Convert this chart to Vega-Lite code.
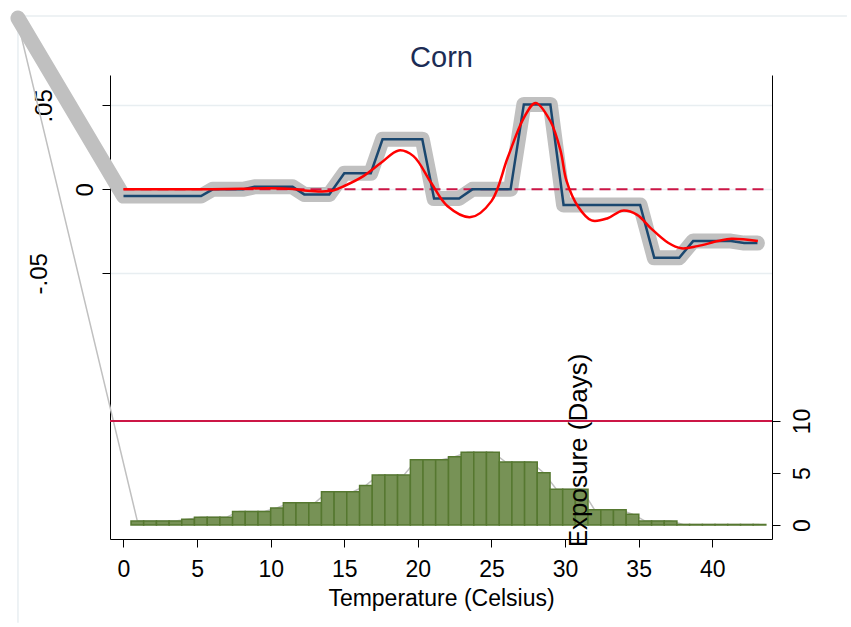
{
  "$schema": "https://vega.github.io/schema/vega-lite/v6.json",
  "width": 662,
  "height": 464,
  "padding": {"left": 10, "top": 10, "right": 5, "bottom": 5},
  "background": "white",
  "config": {
    "view": {"stroke": null},
    "font": "Liberation Sans",
    "axis": {"labelColor": "black", "titleColor": "black", "domainColor": "black", "tickColor": "black", "titleFontWeight": "normal"}
  },
  "datasets": {
    "frame": [
      {"x": -6.96, "x2": 49.15, "y": 0.1032, "y2": 0.1032},
      {"x": -7.17, "x2": -7.17, "y": 0.1032, "y2": -0.258}
    ],
    "zero": [{"x": 0, "x2": 43.7, "y": 0}],
    "thick": [
      {"x": -7.17, "y": 0.102},
      {"x": 0, "y": -0.004}, {"x": 5.27, "y": -0.004}, {"x": 6.06, "y": 0}, {"x": 8.1, "y": 0},
      {"x": 8.9, "y": 0.0015}, {"x": 11.49, "y": 0.0015}, {"x": 12.28, "y": -0.003}, {"x": 13.98, "y": -0.003},
      {"x": 15.0, "y": 0.0096}, {"x": 16.8, "y": 0.0096}, {"x": 17.6, "y": 0.0298}, {"x": 20.3, "y": 0.0298},
      {"x": 21.1, "y": -0.0054}, {"x": 22.8, "y": -0.0054}, {"x": 23.7, "y": 0}, {"x": 26.3, "y": 0},
      {"x": 27.2, "y": 0.0506}, {"x": 29.0, "y": 0.0506}, {"x": 29.9, "y": -0.0093}, {"x": 35.1, "y": -0.0093},
      {"x": 36.06, "y": -0.0407}, {"x": 37.76, "y": -0.0407}, {"x": 38.7, "y": -0.0308}, {"x": 41.27, "y": -0.0308},
      {"x": 42.17, "y": -0.032}, {"x": 43.07, "y": -0.032}
    ],
    "blue": [
      {"x": 0, "y": -0.004}, {"x": 5.27, "y": -0.004}, {"x": 6.06, "y": 0}, {"x": 8.1, "y": 0},
      {"x": 8.9, "y": 0.0015}, {"x": 11.49, "y": 0.0015}, {"x": 12.28, "y": -0.003}, {"x": 13.98, "y": -0.003},
      {"x": 15.0, "y": 0.0096}, {"x": 16.8, "y": 0.0096}, {"x": 17.6, "y": 0.0298}, {"x": 20.3, "y": 0.0298},
      {"x": 21.1, "y": -0.0054}, {"x": 22.8, "y": -0.0054}, {"x": 23.7, "y": 0}, {"x": 26.3, "y": 0},
      {"x": 27.2, "y": 0.0506}, {"x": 29.0, "y": 0.0506}, {"x": 29.9, "y": -0.0093}, {"x": 35.1, "y": -0.0093},
      {"x": 36.06, "y": -0.0407}, {"x": 37.76, "y": -0.0407}, {"x": 38.7, "y": -0.0308}, {"x": 41.27, "y": -0.0308},
      {"x": 42.17, "y": -0.032}, {"x": 43.07, "y": -0.032}
    ],
    "smooth": [
      {"x": 0, "y": 0}, {"x": 2, "y": 0}, {"x": 4, "y": 0}, {"x": 6, "y": 0.0001}, {"x": 8, "y": 0.0004},
      {"x": 10, "y": 0.0007}, {"x": 11.5, "y": 0.0002}, {"x": 12.5, "y": -0.0008}, {"x": 13.5, "y": -0.0012},
      {"x": 14.3, "y": -0.0005}, {"x": 15.0, "y": 0.002}, {"x": 16.3, "y": 0.0079}, {"x": 17.5, "y": 0.0158},
      {"x": 18.7, "y": 0.0232}, {"x": 19.7, "y": 0.0198}, {"x": 20.9, "y": 0.0039}, {"x": 22.0, "y": -0.0099},
      {"x": 23.6, "y": -0.0165}, {"x": 25.0, "y": -0.007}, {"x": 26.1, "y": 0.0188}, {"x": 27.2, "y": 0.0426},
      {"x": 28.0, "y": 0.0515}, {"x": 29.0, "y": 0.0407}, {"x": 29.7, "y": 0.0228}, {"x": 30.1, "y": 0.005},
      {"x": 30.9, "y": -0.0105}, {"x": 31.8, "y": -0.0185}, {"x": 32.9, "y": -0.0172}, {"x": 33.9, "y": -0.0127},
      {"x": 34.9, "y": -0.0152}, {"x": 35.8, "y": -0.0229}, {"x": 37.0, "y": -0.0318}, {"x": 37.9, "y": -0.0351},
      {"x": 39.0, "y": -0.0338}, {"x": 40.4, "y": -0.0308}, {"x": 41.3, "y": -0.0294}, {"x": 43.1, "y": -0.0308}
    ],
    "bars": [
      {"x0": 0.51, "x1": 1.37, "h": 0.38}, {"x0": 1.37, "x1": 2.24, "h": 0.38}, {"x0": 2.24, "x1": 3.10, "h": 0.38},
      {"x0": 3.10, "x1": 3.96, "h": 0.38}, {"x0": 3.96, "x1": 4.82, "h": 0.55}, {"x0": 4.82, "x1": 5.69, "h": 0.74},
      {"x0": 5.69, "x1": 6.55, "h": 0.74}, {"x0": 6.55, "x1": 7.41, "h": 0.74}, {"x0": 7.41, "x1": 8.27, "h": 1.31},
      {"x0": 8.27, "x1": 9.14, "h": 1.31}, {"x0": 9.14, "x1": 10.00, "h": 1.31}, {"x0": 10.00, "x1": 10.86, "h": 1.63},
      {"x0": 10.86, "x1": 11.72, "h": 2.15}, {"x0": 11.72, "x1": 12.59, "h": 2.15}, {"x0": 12.59, "x1": 13.45, "h": 2.15},
      {"x0": 13.45, "x1": 14.31, "h": 3.2}, {"x0": 14.31, "x1": 15.17, "h": 3.2}, {"x0": 15.17, "x1": 16.04, "h": 3.2},
      {"x0": 16.04, "x1": 16.90, "h": 3.81}, {"x0": 16.90, "x1": 17.76, "h": 4.8}, {"x0": 17.76, "x1": 18.62, "h": 4.8},
      {"x0": 18.62, "x1": 19.49, "h": 4.8}, {"x0": 19.49, "x1": 20.35, "h": 6.28}, {"x0": 20.35, "x1": 21.21, "h": 6.28},
      {"x0": 21.21, "x1": 22.08, "h": 6.28}, {"x0": 22.08, "x1": 22.94, "h": 6.57}, {"x0": 22.94, "x1": 23.80, "h": 6.99},
      {"x0": 23.80, "x1": 24.66, "h": 6.99}, {"x0": 24.66, "x1": 25.53, "h": 6.99}, {"x0": 25.53, "x1": 26.39, "h": 6.06},
      {"x0": 26.39, "x1": 27.25, "h": 6.06}, {"x0": 27.25, "x1": 28.11, "h": 6.06}, {"x0": 28.11, "x1": 28.98, "h": 5.03},
      {"x0": 28.98, "x1": 29.84, "h": 3.43}, {"x0": 29.84, "x1": 30.70, "h": 3.43}, {"x0": 30.70, "x1": 31.56, "h": 3.43},
      {"x0": 31.56, "x1": 32.43, "h": 1.47}, {"x0": 32.43, "x1": 33.29, "h": 1.47}, {"x0": 33.29, "x1": 34.15, "h": 1.47},
      {"x0": 34.15, "x1": 35.01, "h": 1.03}, {"x0": 35.01, "x1": 35.88, "h": 0.38}, {"x0": 35.88, "x1": 36.74, "h": 0.38},
      {"x0": 36.74, "x1": 37.60, "h": 0.38}, {"x0": 37.60, "x1": 38.46, "h": 0.05}, {"x0": 38.46, "x1": 39.33, "h": 0.05},
      {"x0": 39.33, "x1": 40.19, "h": 0.05}, {"x0": 40.19, "x1": 41.05, "h": 0.05}, {"x0": 41.05, "x1": 41.92, "h": 0.05},
      {"x0": 41.92, "x1": 42.78, "h": 0.05}, {"x0": 42.78, "x1": 43.64, "h": 0.05}
    ],
    "thin": [
      {"x": -7.26, "h": 48.85},
      {"x": 0.94, "h": 0.38}, {"x": 1.80, "h": 0.38}, {"x": 2.67, "h": 0.38}, {"x": 3.53, "h": 0.38}, {"x": 4.39, "h": 0.55},
      {"x": 5.25, "h": 0.74}, {"x": 6.12, "h": 0.74}, {"x": 6.98, "h": 0.74}, {"x": 7.84, "h": 1.31}, {"x": 8.70, "h": 1.31},
      {"x": 9.57, "h": 1.31}, {"x": 10.43, "h": 1.63}, {"x": 11.29, "h": 2.15}, {"x": 12.16, "h": 2.15}, {"x": 13.02, "h": 2.15},
      {"x": 13.88, "h": 3.2}, {"x": 14.74, "h": 3.2}, {"x": 15.61, "h": 3.2}, {"x": 16.47, "h": 3.81}, {"x": 17.33, "h": 4.8},
      {"x": 18.19, "h": 4.8}, {"x": 19.06, "h": 4.8}, {"x": 19.92, "h": 6.28}, {"x": 20.78, "h": 6.28}, {"x": 21.64, "h": 6.28},
      {"x": 22.51, "h": 6.57}, {"x": 23.37, "h": 6.99}, {"x": 24.23, "h": 6.99}, {"x": 25.09, "h": 6.99}, {"x": 25.96, "h": 6.06},
      {"x": 26.82, "h": 6.06}, {"x": 27.68, "h": 6.06}, {"x": 28.54, "h": 5.03}, {"x": 29.41, "h": 3.43}, {"x": 30.27, "h": 3.43},
      {"x": 31.13, "h": 3.43}, {"x": 32.00, "h": 1.47}, {"x": 32.86, "h": 1.47}, {"x": 33.72, "h": 1.47}, {"x": 34.58, "h": 1.03},
      {"x": 35.45, "h": 0.38}, {"x": 36.31, "h": 0.38}, {"x": 37.17, "h": 0.38}, {"x": 38.03, "h": 0.05}, {"x": 38.90, "h": 0.05},
      {"x": 39.76, "h": 0.05}, {"x": 40.62, "h": 0.05}, {"x": 41.48, "h": 0.05}, {"x": 42.35, "h": 0.05}, {"x": 43.21, "h": 0.05}
    ],
    "ten": [{"y": 10}]
  },
  "layer": [
    {
      "layer": [
        {
          "data": {"name": "frame"},
          "mark": {"type": "rule", "color": "#e8eef1", "strokeWidth": 1.5},
          "encoding": {
            "x": {"field": "x", "type": "quantitative", "scale": {"domain": [-0.917, 44.06], "nice": false, "zero": false},
              "axis": {"orient": "bottom", "values": [0, 5, 10, 15, 20, 25, 30, 35, 40], "labelFontSize": 23, "labelPadding": 11, "tickSize": 8, "title": "Temperature (Celsius)", "titleFontSize": 23, "titlePadding": 6, "grid": false, "labelFlush": false}},
            "x2": {"field": "x2"},
            "y": {"field": "y", "type": "quantitative", "scale": {"domain": [-0.2082, 0.0681], "nice": false, "zero": false},
              "axis": {"orient": "left", "values": [-0.05, 0, 0.05], "labelExpr": "datum.value == 0 ? '0' : (datum.value > 0 ? '.05' : '-.05')", "labelAngle": 270, "labelAlign": "center", "labelBaseline": "alphabetic",
                "labelPadding": {"condition": [{"test": "datum.value == 0", "value": 10}, {"test": "datum.value < 0", "value": 56}], "value": 51},
                "labelFontSize": 24, "tickSize": 8, "grid": true, "gridColor": "#e8eef1", "gridWidth": 1.5, "title": null}},
            "y2": {"field": "y2"}
          }
        },
        {
          "data": {"name": "thick"},
          "mark": {"type": "line", "color": "#c0c0c0", "strokeWidth": 15, "strokeCap": "round", "strokeJoin": "round"},
          "encoding": {
            "x": {"field": "x", "type": "quantitative"},
            "y": {"field": "y", "type": "quantitative"}
          }
        },
        {
          "data": {"name": "zero"},
          "mark": {"type": "rule", "color": "#cc1646", "strokeWidth": 2, "strokeDash": [11, 6]},
          "encoding": {
            "x": {"field": "x", "type": "quantitative"},
            "x2": {"field": "x2"},
            "y": {"field": "y", "type": "quantitative"}
          }
        },
        {
          "data": {"name": "blue"},
          "mark": {"type": "line", "color": "#1a476f", "strokeWidth": 2.5},
          "encoding": {
            "x": {"field": "x", "type": "quantitative"},
            "y": {"field": "y", "type": "quantitative"}
          }
        },
        {
          "data": {"name": "smooth"},
          "mark": {"type": "line", "color": "#ff0000", "strokeWidth": 2.5, "interpolate": "catmull-rom"},
          "encoding": {
            "x": {"field": "x", "type": "quantitative"},
            "y": {"field": "y", "type": "quantitative"}
          }
        }
      ]
    },
    {
      "layer": [
        {
          "data": {"name": "thin"},
          "mark": {"type": "line", "color": "#c0c0c0", "strokeWidth": 1.5},
          "encoding": {
            "x": {"field": "x", "type": "quantitative", "scale": {"domain": [-0.917, 44.06], "nice": false, "zero": false},
              "axis": {"orient": "top", "domain": false, "ticks": false, "labels": false, "grid": false, "title": "Corn", "titleFontSize": 29, "titleColor": "#1c2c55", "titleX": 331, "titleY": -9, "titleAlign": "center", "titleBaseline": "alphabetic", "titleAngle": 0}},
            "y": {"field": "h", "type": "quantitative", "scale": {"domain": [-1.346, 43.27], "nice": false, "zero": false},
              "axis": {"orient": "right", "values": [0, 5, 10], "labelAngle": 270, "labelAlign": "center", "labelBaseline": "alphabetic", "labelPadding": 29, "labelFontSize": 23, "tickSize": 8, "labelFlush": false, "grid": false, "zindex": 1,
                "title": "Exposure (Days)", "titleFontSize": 26, "titleAngle": 270, "titleX": -194, "titleY": 375, "titleAlign": "center", "titleBaseline": "middle"}}
          }
        },
        {
          "data": {"name": "bars"},
          "mark": {"type": "rect", "fill": "#779256", "stroke": "#567830", "strokeWidth": 1.5},
          "encoding": {
            "x": {"field": "x0", "type": "quantitative"},
            "x2": {"field": "x1"},
            "y": {"field": "h", "type": "quantitative"},
            "y2": {"datum": 0}
          }
        },
        {
          "data": {"name": "ten"},
          "mark": {"type": "rule", "color": "#cc1646", "strokeWidth": 2},
          "encoding": {
            "y": {"field": "y", "type": "quantitative"}
          }
        }
      ]
    }
  ],
  "resolve": {"scale": {"y": "independent", "x": "independent"}}
}
